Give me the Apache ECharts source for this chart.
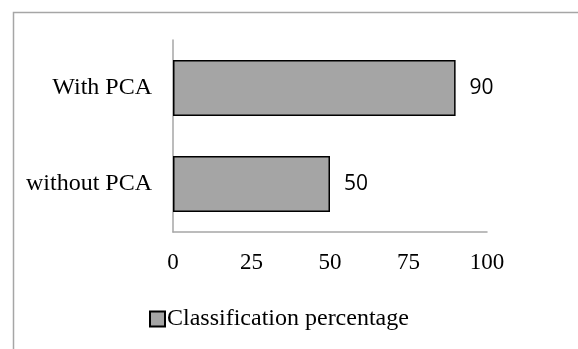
<!DOCTYPE html>
<html>
<head>
<meta charset="utf-8">
<script src="https://cdn.jsdelivr.net/npm/echarts@6/dist/echarts.min.js"></script>
<style>html,body{margin:0;padding:0;background:#fff}#c{width:578px;height:349px}</style>
</head>
<body>
<div id="c"></div>
<script>
var categories = ['without PCA', 'With PCA'];
var values = [50, 90];
var seriesName = 'Classification percentage';
var xTicks = [0, 25, 50, 75, 100];

var chart = echarts.init(document.getElementById('c'), null, {renderer: 'canvas'});
chart.setOption({
  animation: false,
  backgroundColor: '#fff',
  graphic: [{
    type: 'rect', left: 11, top: 10, z: -1,
    shape: {width: 620, height: 400},
    style: {fill: 'none', stroke: '#a6a6a6', lineWidth: 1.5}
  }],
  grid: {left: 173, top: 40, right: 91, bottom: 117},
  legend: {
    data: [seriesName],
    left: 144, top: 302,
    itemWidth: 15, itemHeight: 15, itemGap: 4,
    icon: 'rect',
    textStyle: {fontFamily: 'Liberation Serif', fontSize: 24, color: '#000', padding: [0,0,0,-3]}
  },
  xAxis: {
    type: 'value', min: xTicks[0], max: xTicks[xTicks.length-1], interval: 25,
    axisLine: {show: true, lineStyle: {color: '#a6a6a6', width: 1.5}},
    axisTick: {show: false},
    splitLine: {show: false},
    axisLabel: {fontFamily: 'Liberation Serif', fontSize: 23, color: '#000', margin: 19}
  },
  yAxis: {
    type: 'category', data: categories,
    axisLine: {show: true, lineStyle: {color: '#a6a6a6', width: 1.5}},
    axisTick: {show: false},
    axisLabel: {fontFamily: 'Liberation Serif', fontSize: 24, color: '#000', margin: 21}
  },
  series: [{
    name: seriesName, type: 'bar', data: values, barWidth: 56,
    itemStyle: {color: '#a5a5a5', borderColor: '#000', borderWidth: 1.5},
    label: {show: true, position: 'right', distance: 14, fontFamily: 'Open Sans', fontSize: 21, color: '#000'}
  }]
});
</script>
</body>
</html>
